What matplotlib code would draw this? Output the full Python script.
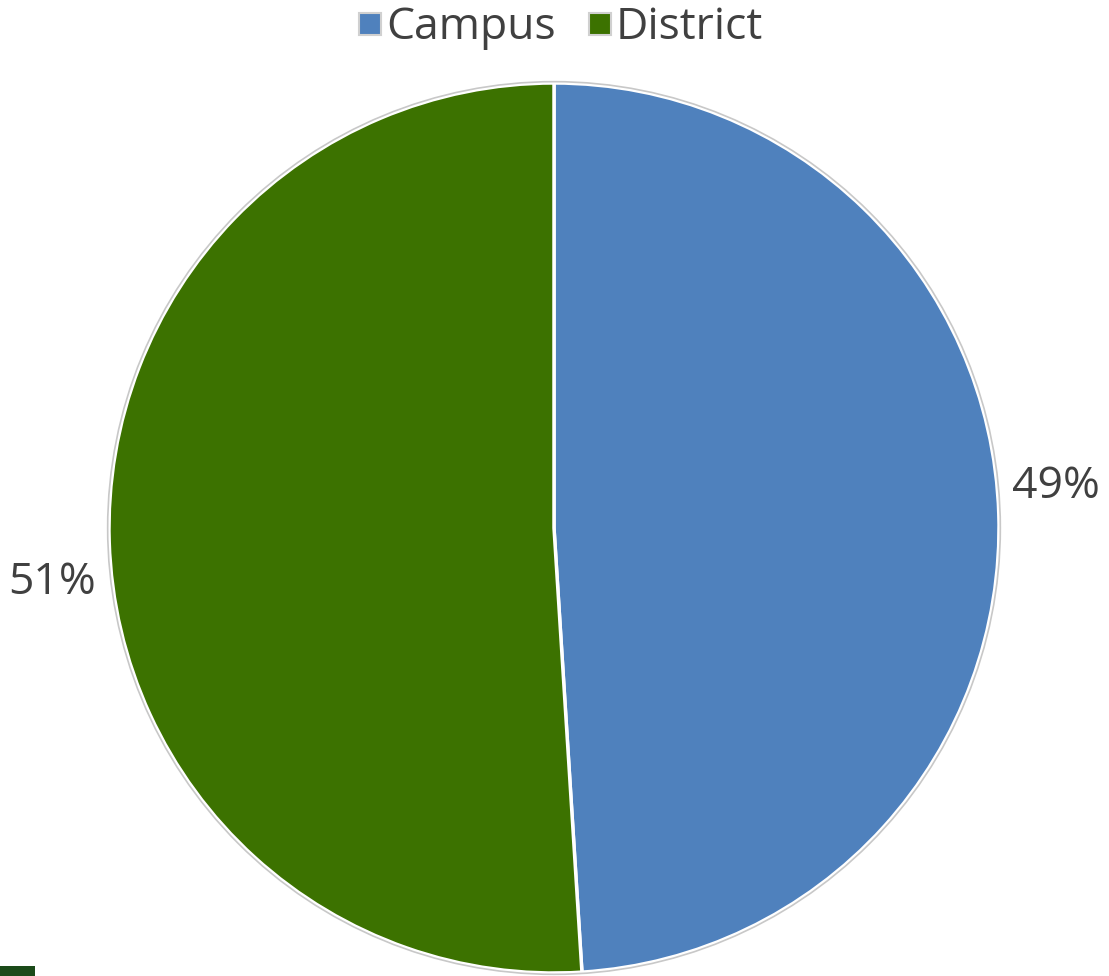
import matplotlib.pyplot as plt
from matplotlib.patches import Circle, Rectangle
from matplotlib.lines import Line2D

categories = ["Campus", "District"]
values = [49, 51]
colors = ["#4F81BD", "#3C7200"]

plt.rcParams['font.family'] = ['Open Sans', 'DejaVu Sans']
text_color = "#404040"

fig = plt.figure(figsize=(11.09, 9.76), dpi=100)
W, H = 1109, 976
cx, cy, r = 554, 528, 445
ax = fig.add_axes([(cx - r) / W, (H - cy - r) / H, 2 * r / W, 2 * r / H])

wedges, _ = ax.pie(values, colors=colors, startangle=90, counterclock=False,
                   radius=1.0, wedgeprops=dict(edgecolor="white", linewidth=2.5))
ax.add_patch(Circle((0, 0), 1.003, fill=False, edgecolor="#c8c8c8", linewidth=1.2,
                    clip_on=False))
ax.set_xlim(-1, 1)
ax.set_ylim(-1, 1)
ax.set_aspect('equal')
ax.axis('off')

# percentage labels outside the pie
label_pos = [(1.03, 0.092, 'left'), (-1.03, -0.124, 'right')]
for v, (x, y, ha) in zip(values, label_pos):
    ax.text(x, y, f"{v}%", ha=ha, va='center', fontsize=32, color=text_color,
            clip_on=False)

handles = [Line2D([0], [0], marker='s', linestyle='none', markersize=16,
                  markerfacecolor=c, markeredgecolor="#d0d0d0", markeredgewidth=1.5)
           for c in colors]
fig.legend(handles, categories, loc='center', bbox_to_anchor=(0.505, 1 - 28 / H),
           ncol=2, frameon=False, fontsize=32, labelcolor=text_color,
           handlelength=0.6, handletextpad=0.05, columnspacing=0.7,
           borderpad=0, borderaxespad=0)

# small dark strip in the lower-left corner
fig.add_artist(Rectangle((0, 0), 35 / W, 10 / H, transform=fig.transFigure,
                         facecolor="#1B4A19", edgecolor='none'))

fig.savefig("out.png", dpi=100, facecolor="white")
